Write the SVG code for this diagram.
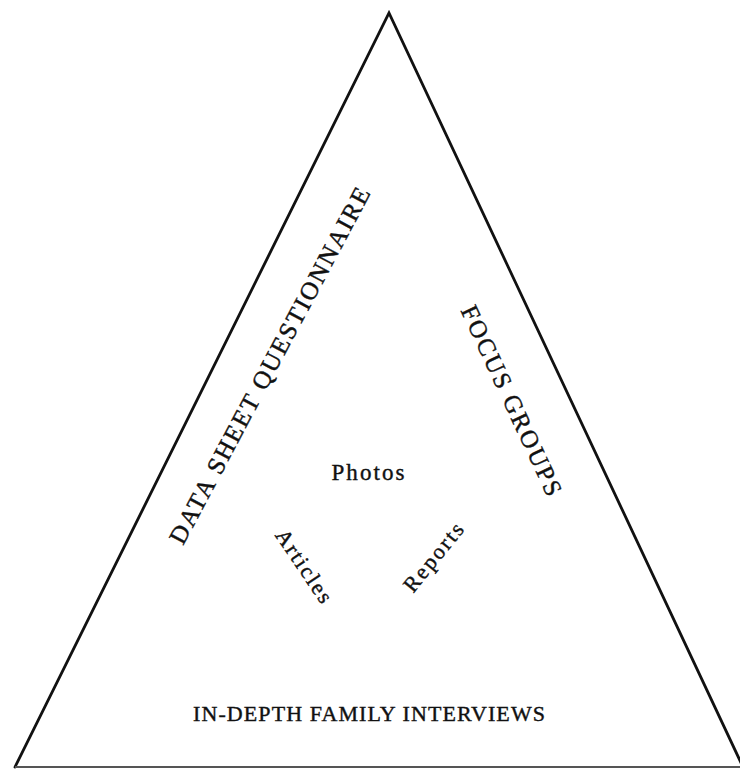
<svg xmlns="http://www.w3.org/2000/svg" width="740" height="769" viewBox="0 0 740 769">
  <style>
    .side { fill: none; stroke: #111; stroke-width: 2.8; stroke-linecap: round; stroke-linejoin: miter; }
    .base { fill: none; stroke: #555; stroke-width: 2.2; }
    .lbl { font-family: "Liberation Serif", "Times New Roman", serif; fill: #111; stroke: #111; stroke-width: 0.4; text-anchor: middle; }
  </style>
  <rect width="740" height="769" fill="#ffffff"/>
  <g id="triangle">
    <polyline class="side" points="15,767 389,13 743,767"/>
    <line class="base" x1="15" y1="767" x2="743" y2="767"/>
  </g>
  <g id="data-sheet-questionnaire">
    <text class="lbl" font-size="25" textLength="400" lengthAdjust="spacing" transform="translate(277,369.5) rotate(-62)">DATA SHEET QUESTIONNAIRE</text>
  </g>
  <g id="focus-groups">
    <text class="lbl" font-size="25" textLength="207" lengthAdjust="spacing" transform="translate(504,404) rotate(65)">FOCUS GROUPS</text>
  </g>
  <g id="photos">
    <text class="lbl" font-size="23" textLength="73" lengthAdjust="spacing" x="368" y="480">Photos</text>
  </g>
  <g id="articles">
    <text class="lbl" font-size="22" textLength="84" lengthAdjust="spacing" transform="translate(298,570) rotate(56)">Articles</text>
  </g>
  <g id="reports">
    <text class="lbl" font-size="22" textLength="82" lengthAdjust="spacing" transform="translate(439,562) rotate(-51)">Reports</text>
  </g>
  <g id="in-depth-family-interviews">
    <text class="lbl" font-size="22" textLength="352" lengthAdjust="spacing" x="369" y="721" stroke-width="0.6">IN-DEPTH FAMILY INTERVIEWS</text>
  </g>
</svg>
